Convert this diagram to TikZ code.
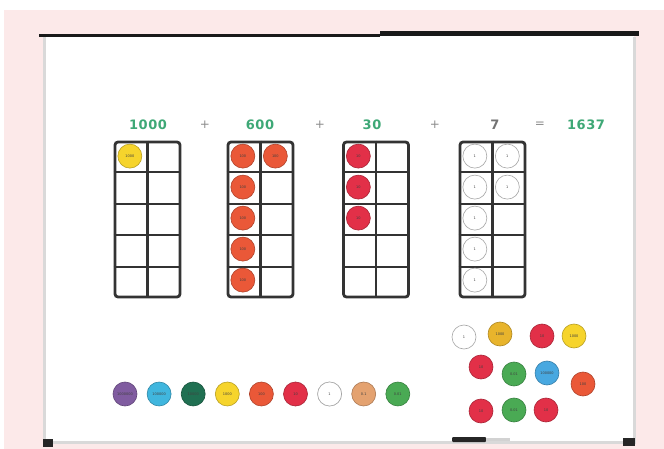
\documentclass[tikz,border=0pt]{standalone}
\usepackage{fontspec}
\setsansfont{DejaVu Sans}
\newfontfamily\eqfont[LetterSpace=4]{DejaVu Sans}
\usepackage{tikz}
\usetikzlibrary{positioning,calc}

\definecolor{pinkbg}{RGB}{252,233,233}
\definecolor{eqgreen}{RGB}{62,168,118}
\definecolor{ctpurple}{RGB}{128,92,160}
\definecolor{ctcyan}{RGB}{64,182,222}
\definecolor{ctdkgreen}{RGB}{32,112,82}
\definecolor{ctyellow}{RGB}{246,212,44}
\definecolor{ctgold}{RGB}{232,180,44}
\definecolor{ctorange}{RGB}{234,88,56}
\definecolor{ctred}{RGB}{226,48,72}
\definecolor{cttan}{RGB}{228,162,112}
\definecolor{ctgreen}{RGB}{74,170,84}
\definecolor{ctblue}{RGB}{72,168,224}

\begin{document}
\begin{tikzpicture}[
  x=1pt, y=-1pt,
  font=\sffamily,
  tenframe/.style={draw=black!80, line width=2.8pt, rounded corners=3pt, minimum width=65pt, minimum height=155pt, inner sep=0pt},
  grid/.style={draw=black!80, line width=2.4pt},
  disk/.style={circle, minimum size=24pt, inner sep=0pt, fill=#1, draw=#1!75!black, line width=0.6pt, text=black!75, font=\sffamily\fontsize{3.5}{4}\selectfont},
  onedisk/.style={disk=white, draw=black!35},
  num/.style={font=\eqfont\bfseries\fontsize{13}{13}\selectfont, text=eqgreen},
  op/.style={font=\eqfont\fontsize{12}{12}\selectfont, text=black!45}
]
\useasboundingbox (0,0) rectangle (664,449);
\fill[white] (0,0) rectangle (664,449);
\fill[pinkbg] (4,10) rectangle (664,449);

% --- whiteboard
\fill[white] (44,35) rectangle (634,442);
\draw[gray!30, line width=3pt] (44,37) -- (44,442) -- (634,442) -- (634,37);
\draw[black!90, line width=3.5pt] (39,35.5) -- (380,35.5);
\draw[black!90, line width=5pt] (380,34) -- (639,34);
\fill[black!85] (43,439) rectangle (53,447);
\fill[black!85] (623,438) rectangle (635,446);
\fill[black!85, rounded corners=1pt] (452,437) rectangle (486,442);
\fill[gray!35] (486,438) rectangle (510,441);

% --- equation
\node[num] (t1) at (148,125) {1000};
\node[op] (p1) at (205,125) {+};
\node[num] (t2) at (260,125) {600};
\node[op] (p2) at (320,125) {+};
\node[num] (t3) at (372,125) {30};
\node[op] (p3) at (435,125) {+};
\node[num, text=black!55] (t4) at (495,125) {7};
\node[op] (eq) at (540,125) {=};
\node[num] (sum) at (586,125) {1637};

% --- ten-frames
\foreach \n/\x in {1/147.5, 2/260.5, 3/376, 4/492.5}
  \node[tenframe] (f\n) at (\x,219.5) {};
\foreach \n in {1,...,4}{
  \draw[grid] (f\n.north) -- (f\n.south);
  \foreach \r in {1,...,4}
    \draw[grid] ($(f\n.north west)!\r/5!(f\n.south west)$) -- ($(f\n.north east)!\r/5!(f\n.south east)$);
}

% --- counters in the frames
\node[disk=ctyellow] (a1) at ($(f1.north west)+(16.25,15.5)$) {1000};
\foreach \c/\r [count=\i] in {0/0,1/0,0/1,0/2,0/3,0/4}
  \node[disk=ctorange] (b\i) at ($(f2.north west)+(16.25+32.5*\c,15.5+31*\r)$) {100};
\foreach \r [count=\i] in {0,1,2}
  \node[disk=ctred] (c\i) at ($(f3.north west)+(16.25,15.5+31*\r)$) {10};
\foreach \c/\r [count=\i] in {0/0,1/0,0/1,1/1,0/2,0/3,0/4}
  \node[onedisk] (d\i) at ($(f4.north west)+(16.25+32.5*\c,15.5+31*\r)$) {1};

% --- counter row
\foreach \col/\lab [count=\i] in {ctpurple/1000000, ctcyan/100000, ctdkgreen/10000, ctyellow/1000, ctorange/100, ctred/10, white/1, cttan/0.1, ctgreen/0.01}
  \node[disk=\col] (r\i) at ({125+34.1*(\i-1)},394) {\lab};
\node[onedisk] (r7) at (r7) {1};

% --- loose counters
\node[onedisk] (s1) at (464,337) {1};
\foreach \col/\lab/\x/\y [count=\i from 2] in {ctgold/1000/500/334, ctred/10/542/336, ctyellow/1000/574/336,
    ctred/10/481/367, ctgreen/0.01/514/374, ctblue/100000/547/373, ctorange/100/583/384,
    ctred/10/481/411, ctgreen/0.01/514/410, ctred/10/546/410}
  \node[disk=\col] (s\i) at (\x,\y) {\lab};
\end{tikzpicture}
\end{document}
